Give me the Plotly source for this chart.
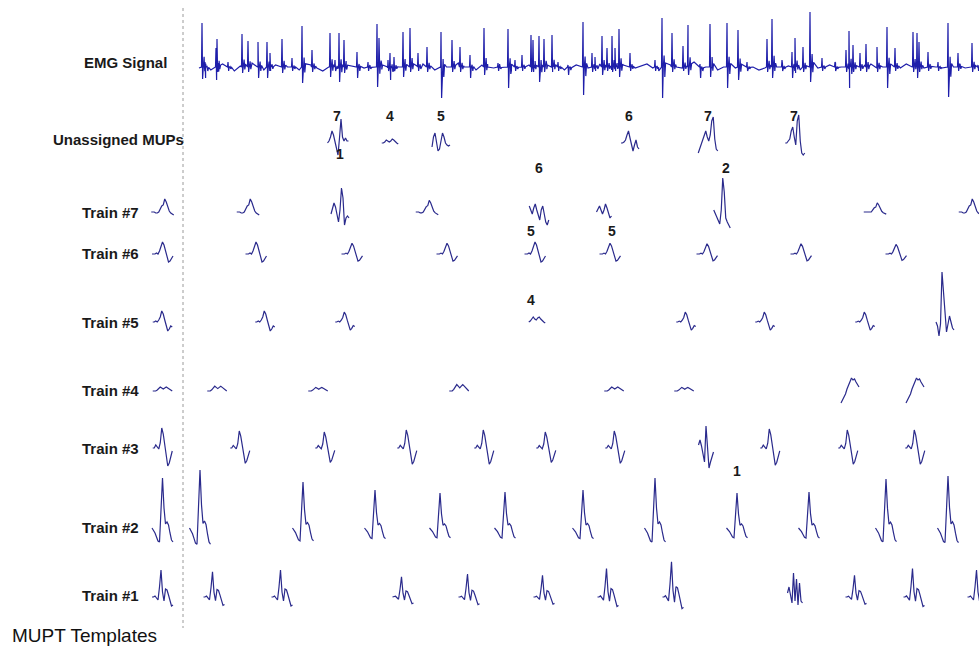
import plotly.graph_objects as go

# ---------------- data ----------------
# MUP template waveforms (display amplitude units, up = positive)
TEMPLATE_7 = [0, 0, 0, -1, -1, 0, 3, 6, 7, 13, 10, 4, 1, -1, -2, -3]
TEMPLATE_6 = [0, 0, 0, 1, 0, 3, 8, 12, 9, 3, -3, -8, -7, -4, -2]
TEMPLATE_5 = [0, 0, 1, 0, 2, 5, 11, 8, 2, -5, -9, -7, -4, -5]
TEMPLATE_4 = [0, 0, 0, 1, 3, 4, 3, 2, 3, 4, 3, 2, 1, 0]
TEMPLATE_3 = [0, 0, 3, 1, -1, 5, 20, 14, 2, -10, -18, -15, -8, -3]
TEMPLATE_2 = [0, -2, -5, -9, -13, -14, 15, 50, 20, 4, 6, 3, -5, -12, -14]
TEMPLATE_1 = [0, 0, 1, -1, -3, 10, 27, 5, -4, 8, 7, 2, -5, -9, -8]

# firing times (ms) and amplitude scale of each discharge
TIMES_7 = [53, 145, 232, 344, 409, 527, 680, 775]
SCALE_7 = [1.0, 1.0, 0.9, 1.0, 1.0, 1.0, 0.7, 1.0]
TIMES_6 = [61, 157, 252, 340, 415, 512, 606, 701]
SCALE_6 = [1.0, 0.9, 0.9, 1.0, 0.9, 0.85, 0.85, 0.8]
TIMES_5 = [70, 150, 342, 491, 570, 670, 750]
SCALE_5 = [1.0, 0.9, 1.0, 0.9, 0.9, 0.9, 1.0]
TIMES_4 = [22, 123, 264, 419, 489, 655, 720]
SCALE_4 = [1.2, 0.9, 1.6, 1.0, 0.9, 1.0, 1.0]
TIMES_3 = [45, 130, 212, 289, 351, 420, 511, 575, 653, 720]
SCALE_3 = [0.85, 0.8, 0.9, 0.9, 0.8, 0.85, 1.0, 0.95, 0.9, 0.9]
TIMES_2 = [5, 108, 180, 245, 310, 388, 460, 542, 614, 691, 753]
SCALE_2 = [1.16, 0.92, 0.76, 0.7, 0.72, 0.76, 1.0, 0.7, 0.72, 0.98, 1.04]
TIMES_1 = [19, 87, 208, 274, 349, 413, 478, 600, 661, 719, 783]
SCALE_1 = [0.93, 1.0, 0.75, 0.85, 0.8, 1.05, 1.3, 1.0, 0.8, 1.05, 1.0]

# discharges whose waveform differs from the template (superimpositions)
VARIANTS = {
    (7, 145): [-2, 3, 9, 5, -4, -10, 2, 24, 14, -13, -6, -4, -6],
    (7, 344): [6, 2, -2, 4, 8, 2, -4, -8, 2, 6, -2, -10, -13, -8],
    (7, 409): [0, 3, 6, 2, -2, 2, 8, 4, -2, -6, -4],
    (7, 527): [2, -2, -6, -10, -12, 2, 34, 20, -6, -10, -14, -16],
    (5, 342): [0, 1, 3, 5, 3, 2, 4, 5, 3, 1, 0, -1],
    (5, 750): [0, -4, -14, -2, 50, 30, 8, -10, -2, 6, 0, -6, -8],
    (4, 655): [-12, -9, -6, -3, 2, 6, 10, 13, 11, 12, 9, 6, 4],
    (4, 720): [-12, -9, -6, -3, 2, 6, 10, 13, 11, 12, 9, 6, 4],
    (3, 511): [3, 8, 2, -6, -14, 22, -2, -20, -14, -8, -4],
    (1, 600): [4, 10, 2, -6, 24, -4, 18, -8, 14, -4, -6],
}

# unassigned MUPs: time and waveform
UNASSIGNED_T = [143, 195, 246, 435, 513, 600]
UNASSIGNED_W = [
    [0, 2, 6, 12, 8, 2, -6, -12, 5, 24, 6, 2, 5, 2, 2],
    [0, 0, 1, 3, 2, 1, 2, 4, 3, 1, 0, -1],
    [-4, 6, 10, 2, -8, -6, 4, 10, 6, 0, -2, -3, -2],
    [0, 0, 1, 3, 8, 12, 5, -3, -8, -2, 3, -4, -6],
    [-10, -6, -2, 2, 8, 12, 6, 2, 8, 22, 26, 4, -6, -8],
    [0, 0, 2, 4, 12, 16, 6, -2, 22, 28, 2, -10, -12, -10],
]

# train-number labels: (row, time, text, side)
NUM_LABELS = [
    ("un", 142, "7", "above"), ("un", 195, "4", "above"), ("un", 246, "5", "above"),
    ("un", 434, "6", "above"), ("un", 513, "7", "above"), ("un", 599, "7", "above"),
    ("un", 145, "1", "below"), (7, 344, "6", "above"), (7, 531, "2", "above"),
    (6, 336, "5", "above"), (6, 417, "5", "above"), (5, 336, "4", "above"),
    (2, 542, "1", "above"),
]

# raw EMG: spike times (ms), peak and trough amplitudes
SPIKE_T = [7, 10, 21, 22, 33, 47, 53, 63, 72, 75, 87, 97, 107, 117, 135, 140, 144, 149,
           162, 173, 182, 184, 193, 195, 199, 208, 215, 223, 232, 246, 257, 265, 275,
           289, 303, 313, 320, 327, 336, 338, 344, 349, 357, 363, 373, 388, 397, 400,
           407, 412, 417, 420, 424, 435, 460, 467, 477, 488, 493, 505, 515, 532, 543,
           552, 572, 577, 587, 597, 600, 608, 615, 627, 640, 651, 654, 658, 665, 671,
           682, 692, 700, 718, 722, 724, 733, 743, 753, 763, 777, 783]
SPIKE_PEAK = [45, 6, 20, 29, 6, 34, 27, 26, 26, 15, 29, 10, 42, 18, 35, 8, 35, 28,
              16, 6, 44, 30, 8, 15, 11, 36, 40, 15, 21, 36, 28, 21, 13,
              40, 5, 39, 8, 13, 33, 28, 32, 29, 33, 6, 3, 46, 15, 11,
              32, 20, 32, 20, 39, 15, 8, 50, 35, 22, 43, 3, 44, 45, 38,
              6, 29, 49, 8, 16, 30, 21, 56, 10, 6, 18, 37, 23, 15, 24,
              21, 41, 20, 36, 35, 26, 16, 6, 45, 15, 25, 3]
SPIKE_TROUGH = [11, 10, 12, 4, 3, 5, 4, 10, 10, 3, 5, 3, 15, 4, 9, 3, 14, 5,
                10, 3, 19, 5, 3, 12, 3, 9, 4, 3, 4, 30, 4, 4, 10,
                7, 3, 20, 3, 3, 4, 4, 14, 4, 4, 3, 7, 27, 4, 3,
                7, 3, 4, 3, 9, 3, 3, 30, 4, 3, 7, 10, 9, 20, 12,
                3, 4, 10, 3, 10, 5, 4, 14, 3, 3, 4, 20, 4, 3, 4,
                4, 20, 3, 4, 10, 4, 3, 3, 29, 3, 4, 3]
EMG_BASELINE = [0, 3, -2, 1, 4, 0, -3, 2, 3, 5, 1, -2, 0, 3, 4, 1, 0, -2, 2, 3, 0, -3, 1, 4,
                2, 0, 2, -2, 0, 3, 1, 4, 0, -3, 1, 3, 0, 2, 4, 2, -2, 0, 1, 3, 5, 1, 0, -2,
                3, 1, 0, 4, 1, -3, 0, 2, 3, 0, 1, 4, 2, 0, -2, 1, 3, 1, 0, 3, 4, 1, -2, 0,
                3, 1, 0, 2, 4, 0, -3, 1, 3, 1, 0, 2, 6, 4, 1, 0, -2, 1, 3, 0, 2, 4, 1, -2,
                0, 3, 1, 4, 2, 0, -2, 1, 3, 0, 2, 3, 5, 1, 0, -3, 1, 3, 4, 0, 1, 3, 1, 0,
                4, 1, -2, 0, 3, 1, 0, 3, 1, 4, 0, 1]

# ---------------- layout constants ----------------
ROW_Y = {"emg": 68, "un": 143, 7: 212, 6: 254, 5: 322, 4: 391, 3: 448, 2: 528, 1: 597}
LABELS = [("EMG Signal", -26, 62), ("Unassigned MUPs", -9, 139), ("Train #7", -54, 212),
          ("Train #6", -54, 253), ("Train #5", -54, 322), ("Train #4", -54, 390),
          ("Train #3", -54, 448), ("Train #2", -54, 527), ("Train #1", -54, 595)]
LABEL_GAP = {"un": 27, 7: 44, 6: 23, 5: 22, 2: 57}
TEMPLATE_T = -32.5
DT = 1.5
MUP_COLOR = "#2a2a8c"
EMG_COLOR = "#1e1eaa"

trains = {
    7: (TEMPLATE_7, TIMES_7, SCALE_7), 6: (TEMPLATE_6, TIMES_6, SCALE_6),
    5: (TEMPLATE_5, TIMES_5, SCALE_5), 4: (TEMPLATE_4, TIMES_4, SCALE_4),
    3: (TEMPLATE_3, TIMES_3, SCALE_3), 2: (TEMPLATE_2, TIMES_2, SCALE_2),
    1: (TEMPLATE_1, TIMES_1, SCALE_1),
}


def add_wave(xs, ys, t, wave, base, scale=1.0):
    n = len(wave)
    for i, v in enumerate(wave):
        xs.append(t + (i - (n - 1) / 2) * DT)
        ys.append(base - v * scale)
    xs.append(None)
    ys.append(None)


fig = go.Figure()

# EMG signal
pts = []
step = 778 / len(EMG_BASELINE)
for i, v in enumerate(EMG_BASELINE):
    pts.append((4 + i * step, v))
for t, pk, tr in zip(SPIKE_T, SPIKE_PEAK, SPIKE_TROUGH):
    pts += [(t - 0.5, 1), (t, pk), (t + 0.6, -tr), (t + 1.3, 1),
            (t + 2.1, 0.25 * pk), (t + 2.8, -0.3 * tr), (t + 3.6, 0.1 * pk)]
pts.sort()
fig.add_trace(go.Scatter(x=[p[0] for p in pts], y=[ROW_Y["emg"] - p[1] for p in pts],
                         mode="lines", line=dict(color=EMG_COLOR, width=1.2),
                         hoverinfo="skip", showlegend=False))

# unassigned
xs, ys = [], []
for t, w in zip(UNASSIGNED_T, UNASSIGNED_W):
    add_wave(xs, ys, t, w, ROW_Y["un"])
fig.add_trace(go.Scatter(x=xs, y=ys, mode="lines", line=dict(color=MUP_COLOR, width=1.2),
                         hoverinfo="skip", showlegend=False))

# trains and templates
for k, (tmpl, times, scales) in trains.items():
    xs, ys = [], []
    add_wave(xs, ys, TEMPLATE_T, tmpl, ROW_Y[k])
    for t, s in zip(times, scales):
        if (k, t) in VARIANTS:
            add_wave(xs, ys, t, VARIANTS[(k, t)], ROW_Y[k])
        else:
            add_wave(xs, ys, t, tmpl, ROW_Y[k], s)
    fig.add_trace(go.Scatter(x=xs, y=ys, mode="lines", line=dict(color=MUP_COLOR, width=1.2),
                             hoverinfo="skip", showlegend=False))

annotations = []
for text, x, y in LABELS:
    annotations.append(dict(x=x, y=y, text="<b>" + text + "</b>", showarrow=False,
                            xanchor="right", yanchor="middle",
                            font=dict(family="Arial", size=15, color="#1a1a1a")))
for row, t, text, side in NUM_LABELS:
    if side == "above":
        y = ROW_Y[row] - LABEL_GAP[row]
    else:
        y = ROW_Y[row] + 11
    annotations.append(dict(x=t, y=y, text="<b>" + text + "</b>", showarrow=False,
                            xanchor="center", yanchor="middle",
                            font=dict(family="Arial", size=14, color="#1a1a1a")))
annotations.append(dict(x=-185, y=635, text="MUPT Templates", showarrow=False,
                        xanchor="left", yanchor="middle",
                        font=dict(family="Arial", size=19, color="#111")))

fig.update_layout(
    width=979, height=648, margin=dict(l=0, r=0, t=0, b=0),
    paper_bgcolor="white", plot_bgcolor="white",
    xaxis=dict(range=[-195, 784], visible=False, fixedrange=True),
    yaxis=dict(range=[648, 0], visible=False, fixedrange=True),
    annotations=annotations,
    shapes=[dict(type="line", x0=-12, x1=-12, y0=8, y1=628, xref="x", yref="y",
                 line=dict(color="#9a9a9a", width=1, dash="dot"))],
)

fig.write_html("out.html", config={"displayModeBar": False},
               post_script="document.body.style.margin='0';document.body.style.overflow='hidden';")
